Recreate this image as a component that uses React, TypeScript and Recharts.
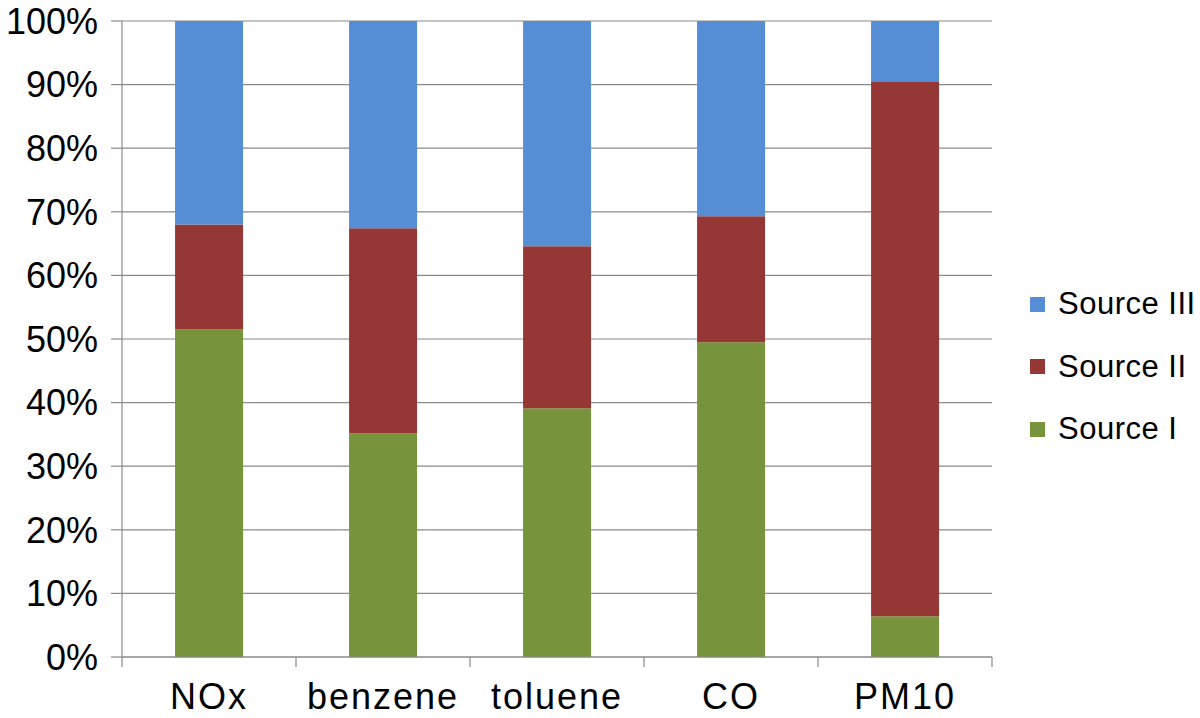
import React from 'react';
import { BarChart, Bar, XAxis, YAxis, CartesianGrid, Legend } from 'recharts';

const categories = ['NOx', 'benzene', 'toluene', 'CO', 'PM10'];
const sourceI = [51.5, 35.2, 39.1, 49.5, 6.4];
const sourceII = [16.5, 32.2, 25.5, 19.8, 84.0];
const sourceIII = [32.0, 32.6, 35.4, 30.7, 9.6];
const yTicks = [0, 10, 20, 30, 40, 50, 60, 70, 80, 90, 100];
const seriesKeys = ['s1', 's2', 's3'];
const seriesNames = ['Source I', 'Source II', 'Source III'];
const seriesColors = ['#77933C', '#953735', '#558ED5'];

const data = categories.map((name, i) => ({
  name,
  s1: sourceI[i],
  s2: sourceII[i],
  s3: sourceIII[i],
}));

const FONT = '"Liberation Sans", Arial, Helvetica, sans-serif';
const AXIS_GRAY = '#8A8A8A';
const X_TICK_SIZE = 10;
const X_TICK_MARGIN = 16;

const XTick = (props: any) => {
  const { x, y, payload, index, visibleTicksCount } = props;
  const half = payload && payload.offset != null ? payload.offset : 87;
  const axisY = y - X_TICK_SIZE - X_TICK_MARGIN;
  return (
    <g>
      <line x1={x - half} x2={x - half} y1={axisY} y2={axisY + X_TICK_SIZE} stroke={AXIS_GRAY} strokeWidth={1.2} />
      {index === visibleTicksCount - 1 && (
        <line x1={x + half} x2={x + half} y1={axisY} y2={axisY + X_TICK_SIZE} stroke={AXIS_GRAY} strokeWidth={1.2} />
      )}
      <text x={x} y={y} dy="0.71em" textAnchor="middle" fill="#000" fontSize={36} letterSpacing={2} fontFamily={FONT}>
        {payload.value}
      </text>
    </g>
  );
};

const renderLegend = () => {
  const order = [2, 1, 0];
  return (
    <div style={{ fontFamily: FONT }}>
      {order.map((i) => (
        <div key={i} style={{ display: 'flex', alignItems: 'center', height: 62.5 }}>
          <div style={{ width: 15, height: 15, background: seriesColors[i], marginRight: 13 }} />
          <span style={{ fontSize: 31, letterSpacing: 0.5, color: '#000', whiteSpace: 'nowrap' }}>{seriesNames[i]}</span>
        </div>
      ))}
    </div>
  );
};

export default function App() {
  return (
    <div style={{ position: 'absolute', left: 0, top: 0, width: 1200, height: 718, background: '#fff' }}>
      <BarChart
        width={1200}
        height={718}
        data={data}
        margin={{ top: 21, right: 208, bottom: 0, left: 0 }}
        barCategoryGap="30.5%"
      >
        <CartesianGrid vertical={false} stroke={AXIS_GRAY} strokeWidth={1.2} />
        <XAxis
          dataKey="name"
          height={61}
          tickLine={false}
          tickSize={X_TICK_SIZE}
          tickMargin={X_TICK_MARGIN}
          axisLine={{ stroke: AXIS_GRAY, strokeWidth: 1.2 }}
          tick={<XTick />}
          interval={0}
        />
        <YAxis
          width={122}
          domain={[0, 100]}
          ticks={yTicks}
          interval={0}
          allowDataOverflow
          tickSize={11}
          tickMargin={13}
          tickFormatter={(v: number) => `${v}%`}
          tick={{ fill: '#000', fontSize: 36, fontFamily: FONT }}
          tickLine={{ stroke: AXIS_GRAY, strokeWidth: 1.2 }}
          axisLine={{ stroke: AXIS_GRAY, strokeWidth: 1.2 }}
        />
        <Legend
          layout="vertical"
          align="center"
          verticalAlign="middle"
          content={renderLegend}
          wrapperStyle={{ left: 1030, top: 273, width: 170 }}
        />
        {seriesKeys.map((k, i) => (
          <Bar key={k} dataKey={k} name={seriesNames[i]} stackId="a" fill={seriesColors[i]} isAnimationActive={false} />
        ))}
      </BarChart>
    </div>
  );
}
